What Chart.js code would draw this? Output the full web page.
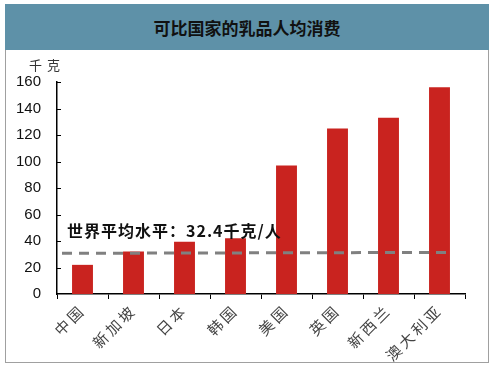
<!DOCTYPE html>
<html>
<head>
<meta charset="utf-8">
<script src="https://cdn.jsdelivr.net/npm/chart.js@4"></script>
<style>
  html, body { margin: 0; padding: 0; background: #fff; }
  body { width: 493px; height: 369px; position: relative; overflow: hidden; }
  #frame {
    position: absolute; left: 5px; top: 4px; width: 482px; height: 358px;
    border: 1px solid #a0a0a0; border-top: none; box-sizing: content-box;
  }
  #header {
    position: absolute; left: 5px; top: 4px; width: 484px; height: 46px;
    background: #5e91a8; color: #111;
    font: bold 17px "Noto Sans CJK SC", sans-serif;
    display: flex; align-items: center; justify-content: center;
  }
  #wrap { position: absolute; left: 0; top: 50px; width: 493px; height: 319px; }
</style>
</head>
<body>
<div id="frame"></div>
<div id="header">可比国家的乳品人均消费</div>
<div id="wrap"><canvas id="chart" width="493" height="319"></canvas></div>
<script>
const countries = ['中国', '新加坡', '日本', '韩国', '美国', '英国', '新西兰', '澳大利亚'];
const consumption = [22, 32, 39.5, 42, 97, 125, 133, 156];
const yTicks = [0, 20, 40, 60, 80, 100, 120, 140, 160];
// world average line, read a little sloped in the picture (left, right)
const worldAvg = [30.7, 31.4];
const avgLabel = '世界平均水平：32.4千克/人';
const unitLabel = '千克';

const extras = {
    id: 'extras',
    beforeDraw(chart) {
        // wider spacing for the slanted category labels
        const sx = chart.scales.x;
        if (!sx._spaced) {
            const orig = sx.drawLabels.bind(sx);
            sx.drawLabels = function (area) {
                this.ctx.save();
                this.ctx.letterSpacing = '3px';
                orig(area);
                this.ctx.restore();
            };
            sx._spaced = true;
        }
    },
    afterDatasetsDraw(chart) {
        const { ctx, chartArea, scales } = chart;
        const y = scales.y;

        // dashed world average line
        ctx.save();
        ctx.strokeStyle = '#808080';
        ctx.lineWidth = 3;
        ctx.setLineDash([10, 7]);
        ctx.beginPath();
        ctx.moveTo(chartArea.left + 5, y.getPixelForValue(worldAvg[0]));
        ctx.lineTo(chartArea.right - 18, y.getPixelForValue(worldAvg[1]));
        ctx.stroke();
        ctx.restore();

        // annotation text
        ctx.save();
        ctx.font = 'bold 16px "Noto Sans CJK SC", sans-serif';
        ctx.letterSpacing = '1px';
        ctx.fillStyle = '#111';
        ctx.textBaseline = 'middle';
        ctx.fillText(avgLabel, chartArea.left + 10, y.getPixelForValue(worldAvg[0]) - 22);
        ctx.restore();
    },
    afterDraw(chart) {
        const { ctx, chartArea, scales } = chart;
        const y = scales.y;

        // inward y tick marks
        ctx.save();
        ctx.strokeStyle = '#000';
        ctx.lineWidth = 1;
        yTicks.forEach(v => {
            if (v === 0) return;
            const py = Math.round(y.getPixelForValue(v)) + 0.5;
            ctx.beginPath();
            ctx.moveTo(chartArea.left, py);
            ctx.lineTo(chartArea.left + 4, py);
            ctx.stroke();
        });

        // unit label above the y axis
        ctx.font = '13px "Noto Sans CJK SC", sans-serif';
        ctx.letterSpacing = '5px';
        ctx.fillStyle = '#333';
        ctx.textAlign = 'center';
        ctx.textBaseline = 'middle';
        ctx.fillText(unitLabel, chartArea.left - 10, chartArea.top - 17);
        ctx.restore();
    }
};

new Chart(document.getElementById('chart'), {
    type: 'bar',
    data: {
        labels: countries,
        datasets: [{
            data: consumption,
            backgroundColor: '#c9231f',
            borderWidth: 0,
            barPercentage: 0.41,
            categoryPercentage: 1
        }]
    },
    options: {
        responsive: false,
        animation: false,
        devicePixelRatio: 1,
        layout: { padding: { left: 16, right: 28, top: 32, bottom: 0 } },
        plugins: {
            legend: { display: false },
            tooltip: { enabled: false }
        },
        scales: {
            x: {
                afterFit(axis) {
                    axis.height = 75;
                    axis.paddingLeft = 0;
                    axis.paddingRight = 0;
                },
                grid: {
                    display: true,
                    drawOnChartArea: false,
                    drawTicks: true,
                    tickLength: 5,
                    color: '#000',
                    offset: true
                },
                border: { display: true, color: '#000', width: 1.5 },
                ticks: {
                    color: '#444',
                    font: { family: '"Noto Sans CJK SC", sans-serif', size: 15 },
                    autoSkip: false,
                    minRotation: 45,
                    maxRotation: 45,
                    padding: 2
                }
            },
            y: {
                min: 0,
                max: 160,
                afterBuildTicks(axis) { axis.ticks = yTicks.map(v => ({ value: v })); },
                afterFit(axis) {
                    axis.width = 41;
                    axis.paddingTop = 0;
                    axis.paddingBottom = 0;
                },
                grid: { display: false, drawTicks: false },
                border: { display: true, color: '#000', width: 1.5 },
                ticks: {
                    color: '#111',
                    font: { family: '"Liberation Sans", Arial, sans-serif', size: 15 },
                    autoSkip: false,
                    padding: 16
                }
            }
        }
    },
    plugins: [extras]
});
</script>
</body>
</html>
